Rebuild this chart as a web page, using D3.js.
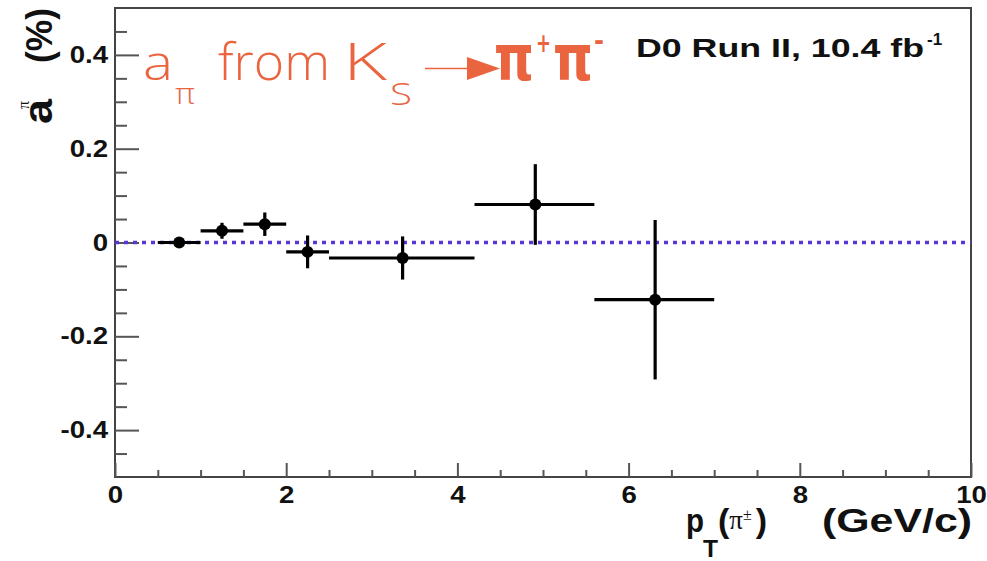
<!DOCTYPE html>
<html>
<head>
<meta charset="utf-8">
<script src="https://cdn.jsdelivr.net/npm/d3@7/dist/d3.min.js"></script>
<style>
  html, body { margin: 0; padding: 0; background: #fff; }
  svg { display: block; }
  .bold { font-family: "Liberation Sans", Arial, Helvetica, sans-serif; font-weight: bold; fill: #111; }
</style>
</head>
<body>
<svg id="chart" width="987" height="561"></svg>
<script>
// pion asymmetry a^pi vs pT, measured bins
const binLow    = [0.5, 1.0, 1.5, 2.0, 2.5, 4.2, 5.6];
const binHigh   = [1.0, 1.5, 2.0, 2.5, 4.2, 5.6, 7.0];
const binCenter = [0.75, 1.25, 1.75, 2.25, 3.36, 4.91, 6.31];
const asym      = [0.000, 0.025, 0.039, -0.020, -0.033, 0.081, -0.122];
const asymErr   = [0.006, 0.017, 0.025, 0.035, 0.046, 0.086, 0.170];

const xMajorTicks = [0, 2, 4, 6, 8, 10];
const yMajorTicks = [-0.4, -0.2, 0, 0.2, 0.4];
const xMinorTicks = [0.5, 1, 1.5, 2.5, 3, 3.5, 4.5, 5, 5.5, 6.5, 7, 7.5, 8.5, 9, 9.5];
const yMinorTicks = [-0.45, -0.35, -0.3, -0.25, -0.15, -0.1, -0.05, 0.05, 0.1, 0.15, 0.25, 0.3, 0.35, 0.45];

const svg = d3.select("#chart");
const plot = { left: 115, right: 971, top: 8, bottom: 477 };

const x = d3.scaleLinear().domain([0, 10]).range([plot.left, plot.right]);
const y = d3.scaleLinear().domain([-0.5, 0.5]).range([plot.bottom, plot.top]);

// stretch text horizontally by a factor
function widen(sel, k) {
  sel.each(function () {
    const w = this.getComputedTextLength();
    d3.select(this).attr("textLength", w * k).attr("lengthAdjust", "spacingAndGlyphs");
  });
}

// frame
svg.append("rect")
  .attr("x", plot.left).attr("y", plot.top)
  .attr("width", plot.right - plot.left).attr("height", plot.bottom - plot.top)
  .attr("fill", "none").attr("stroke", "#444").attr("stroke-width", 2);

// y axis: major + minor ticks pointing inward
const yAxis = svg.append("g").attr("transform", `translate(${plot.left},0)`)
  .call(d3.axisLeft(y).tickValues(yMajorTicks).tickSizeInner(-24).tickSizeOuter(0).tickPadding(7)
    .tickFormat(d => String(+d.toFixed(1))));
yAxis.select(".domain").remove();
yAxis.selectAll("line").attr("stroke", "#555").attr("stroke-width", 2);
yAxis.selectAll("text").attr("class", "bold").style("font-size", "24px").attr("fill", "#111");
widen(yAxis.selectAll("text"), 1.15);

const yMinor = svg.append("g").attr("transform", `translate(${plot.left},0)`)
  .call(d3.axisLeft(y).tickValues(yMinorTicks).tickSizeInner(-12).tickSizeOuter(0).tickFormat(""));
yMinor.select(".domain").remove();
yMinor.selectAll("line").attr("stroke", "#555").attr("stroke-width", 2);

// x axis
const xAxis = svg.append("g").attr("transform", `translate(0,${plot.bottom})`)
  .call(d3.axisBottom(x).tickValues(xMajorTicks).tickSizeInner(-14).tickSizeOuter(0).tickPadding(9)
    .tickFormat(d => String(d)));
xAxis.select(".domain").remove();
xAxis.selectAll("line").attr("stroke", "#555").attr("stroke-width", 2);
xAxis.selectAll("text").attr("class", "bold").style("font-size", "24px").attr("fill", "#111");
widen(xAxis.selectAll("text"), 1.15);

const xMinor = svg.append("g").attr("transform", `translate(0,${plot.bottom})`)
  .call(d3.axisBottom(x).tickValues(xMinorTicks).tickSizeInner(-7).tickSizeOuter(0).tickFormat(""));
xMinor.select(".domain").remove();
xMinor.selectAll("line").attr("stroke", "#555").attr("stroke-width", 2);

// zero reference line
svg.append("line")
  .attr("x1", x(0)).attr("x2", x(10)).attr("y1", y(0)).attr("y2", y(0))
  .attr("stroke", "#5a35d8").attr("stroke-width", 3.5).attr("stroke-dasharray", "4 5");

// data points with error bars
const pts = svg.append("g");
const idx = d3.range(asym.length);
pts.selectAll("line.hbar").data(idx).join("line").attr("class", "hbar")
  .attr("x1", i => x(binLow[i])).attr("x2", i => x(binHigh[i]))
  .attr("y1", i => y(asym[i])).attr("y2", i => y(asym[i]))
  .attr("stroke", "#000").attr("stroke-width", 3.2);
pts.selectAll("line.vbar").data(idx).join("line").attr("class", "vbar")
  .attr("x1", i => x(binCenter[i])).attr("x2", i => x(binCenter[i]))
  .attr("y1", i => y(asym[i] - asymErr[i])).attr("y2", i => y(asym[i] + asymErr[i]))
  .attr("stroke", "#000").attr("stroke-width", 3.2);
pts.selectAll("circle").data(idx).join("circle")
  .attr("cx", i => x(binCenter[i])).attr("cy", i => y(asym[i])).attr("r", 6)
  .attr("fill", "#000");

// experiment label
svg.append("text").attr("class", "bold").attr("x", 636).attr("y", 57)
  .style("font-size", "26px").attr("textLength", 288).attr("lengthAdjust", "spacingAndGlyphs")
  .text("D0 Run II, 10.4 fb");
svg.append("text").attr("class", "bold").attr("x", 927).attr("y", 45)
  .style("font-size", "17px").text("-1");

// y axis title (rotated): a^pi (%)
const yt = svg.append("g").attr("transform", "translate(52,0) rotate(-90)");
yt.append("text").attr("class", "bold").attr("x", -124).attr("y", 0)
  .style("font-size", "40px").attr("textLength", 25).attr("lengthAdjust", "spacingAndGlyphs").text("a");
yt.append("text").attr("x", -109).attr("y", -23)
  .style("font-family", "'Liberation Serif', serif").style("font-size", "16px").attr("fill", "#111").text("π");
yt.append("text").attr("class", "bold").attr("x", -63).attr("y", 0)
  .style("font-size", "37px").attr("textLength", 55).attr("lengthAdjust", "spacingAndGlyphs").text("(%)");

// x axis title: p_T(pi^±)   (GeV/c)
svg.append("text").attr("class", "bold").attr("x", 686).attr("y", 532)
  .style("font-size", "34px").attr("textLength", 18).attr("lengthAdjust", "spacingAndGlyphs").text("p");
svg.append("text").attr("class", "bold").attr("x", 703).attr("y", 557)
  .style("font-size", "24px").attr("textLength", 15).attr("lengthAdjust", "spacingAndGlyphs").text("T");
const pion = svg.append("text").attr("class", "bold").attr("x", 718).attr("y", 532).style("font-size", "34px");
pion.append("tspan").text("(");
pion.append("tspan").attr("dx", 0).attr("dy", -3)
  .style("font-family", "'Liberation Serif', serif").style("font-weight", "normal").style("font-size", "27px").text("π");
pion.append("tspan").attr("dx", 0).attr("dy", -9)
  .style("font-family", "'Liberation Serif', serif").style("font-weight", "normal").style("font-size", "16px").text("±");
pion.append("tspan").attr("dx", 4).attr("dy", 12).text(")");
svg.append("text").attr("class", "bold").attr("x", 822).attr("y", 532)
  .style("font-size", "34px").attr("textLength", 150).attr("lengthAdjust", "spacingAndGlyphs").text("(GeV/c)");

// annotation: a_pi from K_S -> pi+ pi-
const orange = "#e9643f";
const ann = svg.append("g").attr("fill", orange);
const thin = "'Open Sans', Lato, sans-serif";
const heavy = "'DejaVu Sans', 'Liberation Sans', sans-serif";
ann.append("text").attr("x", 143).attr("y", 80).style("font-family", thin).style("font-weight", 300)
  .style("font-size", "48px").attr("textLength", 30).attr("lengthAdjust", "spacingAndGlyphs").text("a");
ann.append("text").attr("x", 175).attr("y", 104).style("font-family", thin).style("font-weight", 300)
  .style("font-size", "30px").attr("textLength", 20).attr("lengthAdjust", "spacingAndGlyphs").text("π");
ann.append("text").attr("x", 218).attr("y", 80).style("font-family", thin).style("font-weight", 300)
  .style("font-size", "52px").attr("textLength", 112).attr("lengthAdjust", "spacingAndGlyphs").text("from");
ann.append("text").attr("x", 343).attr("y", 80).style("font-family", thin).style("font-weight", 300)
  .style("font-size", "52px").attr("textLength", 44).attr("lengthAdjust", "spacingAndGlyphs").text("K");
ann.append("text").attr("x", 390).attr("y", 105).style("font-family", thin).style("font-weight", 300)
  .style("font-size", "32px").attr("textLength", 22).attr("lengthAdjust", "spacingAndGlyphs").text("S");
ann.append("line").attr("x1", 425).attr("x2", 470).attr("y1", 68.5).attr("y2", 68.5)
  .attr("stroke", orange).attr("stroke-width", 1.5);
ann.append("path").attr("d", "M467,57 L500,68.5 L467,80 Z");
// heavy glyphs scaled to a set advance width
function bigText(xp, yp, size, len, s) {
  const t = ann.append("text").attr("x", 0).attr("y", 0)
    .style("font-family", heavy).style("font-weight", "bold").style("font-size", size + "px").text(s);
  const sx = len / t.node().getComputedTextLength();
  t.attr("transform", `translate(${xp},${yp}) scale(${sx},1)`);
}
bigText(494, 80, 64, 40, "π");
bigText(536, 52, 27, 15, "+");
bigText(553, 80, 64, 40, "π");
bigText(594, 50, 26, 10, "-");
</script>
</body>
</html>
